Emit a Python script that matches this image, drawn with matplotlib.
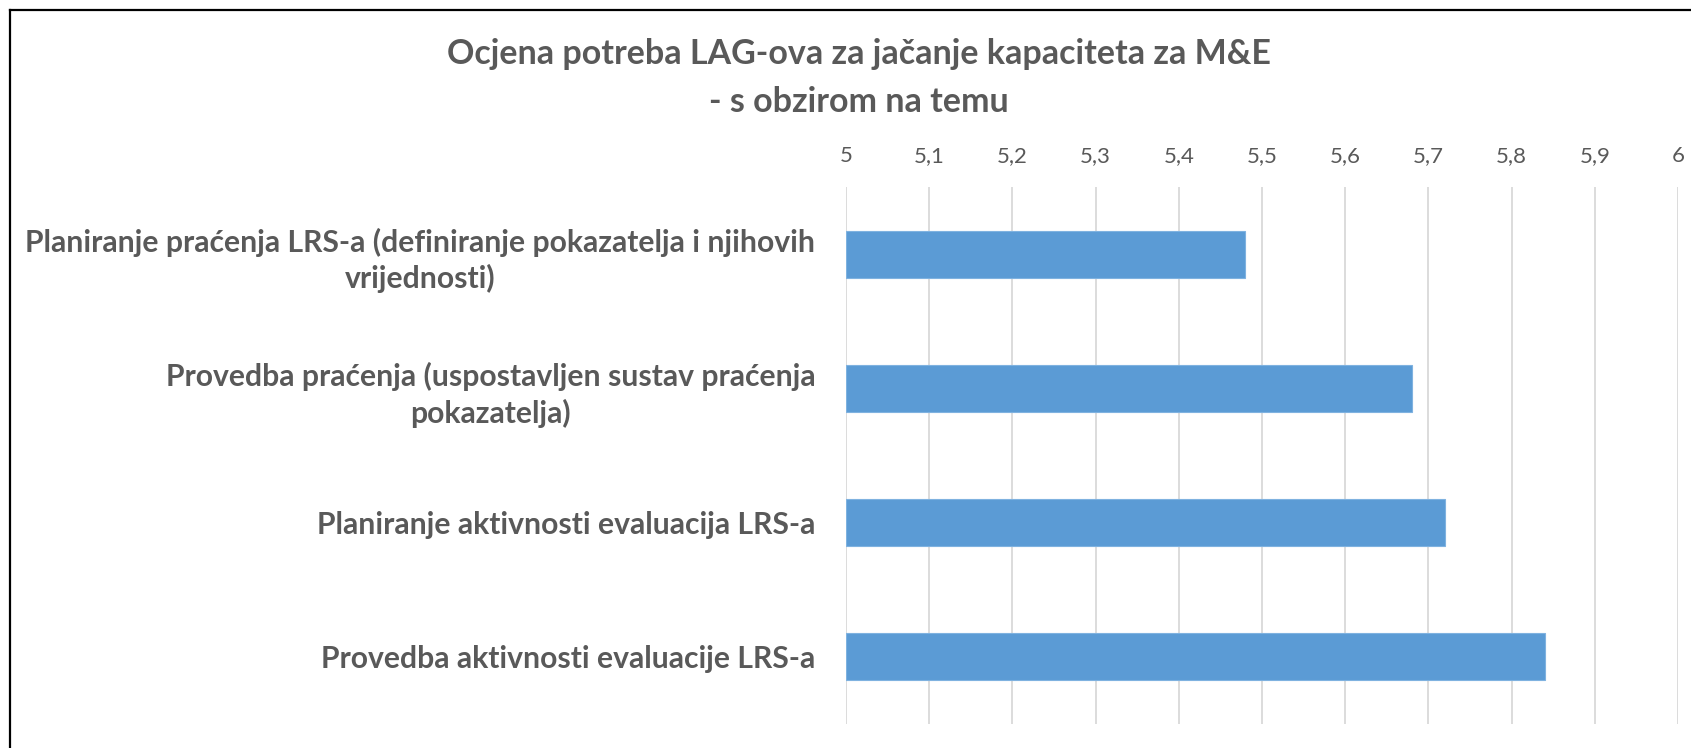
import matplotlib
matplotlib.use("Agg")
import matplotlib.pyplot as plt
from matplotlib.lines import Line2D

# chart data
categories = [
    "Planiranje praćenja LRS-a (definiranje pokazatelja i njihovih\nvrijednosti)",
    "Provedba praćenja (uspostavljen sustav praćenja\npokazatelja)",
    "Planiranje aktivnosti evaluacija LRS-a",
    "Provedba aktivnosti evaluacije LRS-a",
]
values = [5.48, 5.68, 5.72, 5.84]
xticks = [5, 5.1, 5.2, 5.3, 5.4, 5.5, 5.6, 5.7, 5.8, 5.9, 6]
xtick_labels = ["5", "5,1", "5,2", "5,3", "5,4", "5,5", "5,6", "5,7", "5,8", "5,9", "6"]
title = "Ocjena potreba LAG-ova za jačanje kapaciteta za M&E\n- s obzirom na temu"

BAR_COLOR = "#5B9BD5"
TEXT_COLOR = "#595959"
GRID_COLOR = "#D9D9D9"

W, H = 1691, 748
plt.rcParams["font.family"] = ["Lato", "DejaVu Sans"]

fig = plt.figure(figsize=(W / 100, H / 100), dpi=100)
fig.patch.set_facecolor("white")

# plot area in pixels: x 846..1678, y 187..724 (from top)
ax = fig.add_axes([846 / W, 1 - 724 / H, (1678 - 846) / W, (724 - 187) / H])

ypos = list(range(len(categories)))
ax.barh(ypos, [v - 5 for v in values], left=5, height=0.35,
        color=BAR_COLOR, edgecolor="#7FB2E0", linewidth=0.8, zorder=3)

ax.set_xlim(5, 6)
ax.set_ylim(len(categories) - 0.5, -0.5)
ax.set_xticks(xticks)
ax.set_xticklabels(xtick_labels)
ax.set_yticks(ypos)
ax.set_yticklabels(categories)

ax.xaxis.tick_top()
ax.tick_params(axis="x", length=0, pad=15, labelsize=16, labelcolor=TEXT_COLOR)
ax.tick_params(axis="y", length=0, pad=22, labelsize=21.7, labelcolor=TEXT_COLOR)
for lbl in ax.get_yticklabels():
    lbl.set_fontweight("bold")
    lbl.set_multialignment("center")
    lbl.set_linespacing(1.32)

ax.grid(axis="x", color=GRID_COLOR, linewidth=1.3, zorder=0)
for s in ax.spines.values():
    s.set_visible(False)

fig.text(0.508, 1 - 78 / H, title, ha="center", va="center",
         fontsize=24.5, fontweight="bold", color=TEXT_COLOR, linespacing=1.6)

# chart frame (only left and top edges are visible in the crop)
fig.add_artist(Line2D([10 / W, 10 / W], [0, 1 - 10 / H], color="black", lw=1.6))
fig.add_artist(Line2D([10 / W, 1], [1 - 10 / H, 1 - 10 / H], color="black", lw=1.6))

plt.savefig("out.png", dpi=100)
